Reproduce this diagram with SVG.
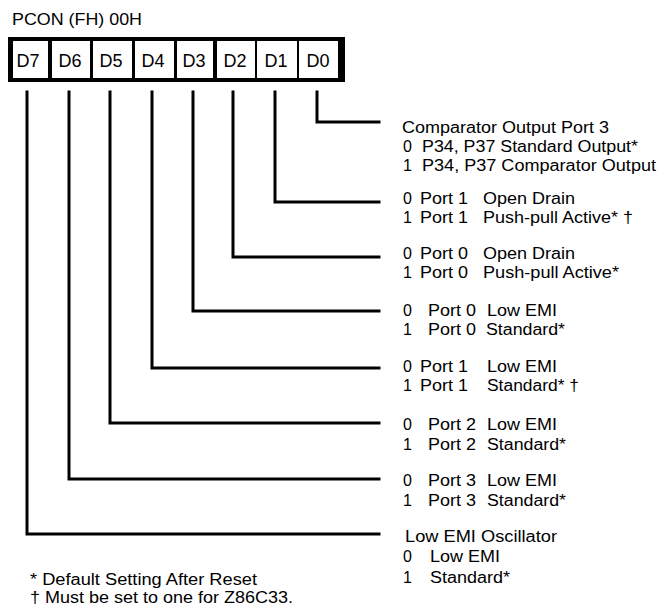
<svg xmlns="http://www.w3.org/2000/svg" width="662" height="607" viewBox="0 0 662 607">
<style>
text{font-family:"Liberation Sans",Arial,sans-serif;font-size:16px;fill:#000}
.c{text-anchor:middle;font-size:18px}
.w{stroke:#000;stroke-width:3;fill:none;stroke-linecap:square;stroke-linejoin:miter}
</style>
<rect width="662" height="607" fill="#fff"/>
<text x="12" y="25" textLength="130" lengthAdjust="spacingAndGlyphs">PCON (FH) 00H</text>
<g id="register">
<rect x="8" y="37" width="337" height="45" fill="#000"/>
<rect x="13" y="41" width="35" height="37" fill="#fff"/>
<rect x="52" y="41" width="38" height="37" fill="#fff"/>
<rect x="93" y="41" width="39" height="37" fill="#fff"/>
<rect x="135" y="41" width="39" height="37" fill="#fff"/>
<rect x="177" y="41" width="36" height="37" fill="#fff"/>
<rect x="217" y="41" width="38" height="37" fill="#fff"/>
<rect x="257" y="41" width="40" height="37" fill="#fff"/>
<rect x="299" y="41" width="39" height="37" fill="#fff"/>
<text class="c" x="28" y="67">D7</text>
<text class="c" x="70" y="67">D6</text>
<text class="c" x="111" y="67">D5</text>
<text class="c" x="153" y="67">D4</text>
<text class="c" x="194" y="67">D3</text>
<text class="c" x="235" y="67">D2</text>
<text class="c" x="276" y="67">D1</text>
<text class="c" x="318" y="67">D0</text>
</g>
<g id="connectors">
<polyline class="w" points="317,92 317,122 379,122"/>
<polyline class="w" points="275,92 275,202 379,202"/>
<polyline class="w" points="233,92 233,257 379,257"/>
<polyline class="w" points="193,92 193,311 379,311"/>
<polyline class="w" points="152,92 152,368 379,368"/>
<polyline class="w" points="110,92 110,423 379,423"/>
<polyline class="w" points="69,92 69,479 379,479"/>
<polyline class="w" points="27,92 27,534 379,534"/>
</g>
<g id="d0">
<text x="402" y="133" textLength="207" lengthAdjust="spacingAndGlyphs">Comparator Output Port 3</text>
<text x="403" y="152">0</text>
<text x="422" y="152" textLength="216" lengthAdjust="spacingAndGlyphs">P34, P37 Standard Output*</text>
<text x="403" y="171">1</text>
<text x="422" y="171" textLength="234" lengthAdjust="spacingAndGlyphs">P34, P37 Comparator Output</text>
</g>
<g id="d1">
<text x="403" y="204">0</text>
<text x="420" y="204" textLength="48" lengthAdjust="spacingAndGlyphs">Port 1</text>
<text x="483" y="204" textLength="92" lengthAdjust="spacingAndGlyphs">Open Drain</text>
<text x="403" y="223">1</text>
<text x="420" y="223" textLength="48" lengthAdjust="spacingAndGlyphs">Port 1</text>
<text x="483" y="223" textLength="150" lengthAdjust="spacingAndGlyphs">Push-pull Active* †</text>
</g>
<g id="d2">
<text x="403" y="259">0</text>
<text x="420" y="259" textLength="48" lengthAdjust="spacingAndGlyphs">Port 0</text>
<text x="483" y="259" textLength="92" lengthAdjust="spacingAndGlyphs">Open Drain</text>
<text x="403" y="278">1</text>
<text x="420" y="278" textLength="48" lengthAdjust="spacingAndGlyphs">Port 0</text>
<text x="483" y="278" textLength="136" lengthAdjust="spacingAndGlyphs">Push-pull Active*</text>
</g>
<g id="d3">
<text x="403" y="316">0</text>
<text x="428" y="316" textLength="48" lengthAdjust="spacingAndGlyphs">Port 0</text>
<text x="487" y="316" textLength="70" lengthAdjust="spacingAndGlyphs">Low EMI</text>
<text x="403" y="335">1</text>
<text x="428" y="335" textLength="48" lengthAdjust="spacingAndGlyphs">Port 0</text>
<text x="486" y="335" textLength="79" lengthAdjust="spacingAndGlyphs">Standard*</text>
</g>
<g id="d4">
<text x="403" y="372">0</text>
<text x="420" y="372" textLength="48" lengthAdjust="spacingAndGlyphs">Port 1</text>
<text x="487" y="372" textLength="70" lengthAdjust="spacingAndGlyphs">Low EMI</text>
<text x="403" y="391">1</text>
<text x="420" y="391" textLength="48" lengthAdjust="spacingAndGlyphs">Port 1</text>
<text x="487" y="391" textLength="92" lengthAdjust="spacingAndGlyphs">Standard* †</text>
</g>
<g id="d5">
<text x="403" y="430">0</text>
<text x="428" y="430" textLength="48" lengthAdjust="spacingAndGlyphs">Port 2</text>
<text x="487" y="430" textLength="70" lengthAdjust="spacingAndGlyphs">Low EMI</text>
<text x="403" y="450">1</text>
<text x="428" y="450" textLength="48" lengthAdjust="spacingAndGlyphs">Port 2</text>
<text x="487" y="450" textLength="79" lengthAdjust="spacingAndGlyphs">Standard*</text>
</g>
<g id="d6">
<text x="403" y="486">0</text>
<text x="428" y="486" textLength="48" lengthAdjust="spacingAndGlyphs">Port 3</text>
<text x="487" y="486" textLength="70" lengthAdjust="spacingAndGlyphs">Low EMI</text>
<text x="403" y="506">1</text>
<text x="428" y="506" textLength="48" lengthAdjust="spacingAndGlyphs">Port 3</text>
<text x="487" y="506" textLength="79" lengthAdjust="spacingAndGlyphs">Standard*</text>
</g>
<g id="d7">
<text x="405" y="542" textLength="152" lengthAdjust="spacingAndGlyphs">Low EMI Oscillator</text>
<text x="403" y="562">0</text>
<text x="430" y="562" textLength="70" lengthAdjust="spacingAndGlyphs">Low EMI</text>
<text x="403" y="583">1</text>
<text x="430" y="583" textLength="80" lengthAdjust="spacingAndGlyphs">Standard*</text>
</g>
<g id="notes">
<text x="30" y="585" textLength="227" lengthAdjust="spacingAndGlyphs">* Default Setting After Reset</text>
<text x="30" y="603" textLength="263" lengthAdjust="spacingAndGlyphs">† Must be set to one for Z86C33.</text>
</g>
</svg>
